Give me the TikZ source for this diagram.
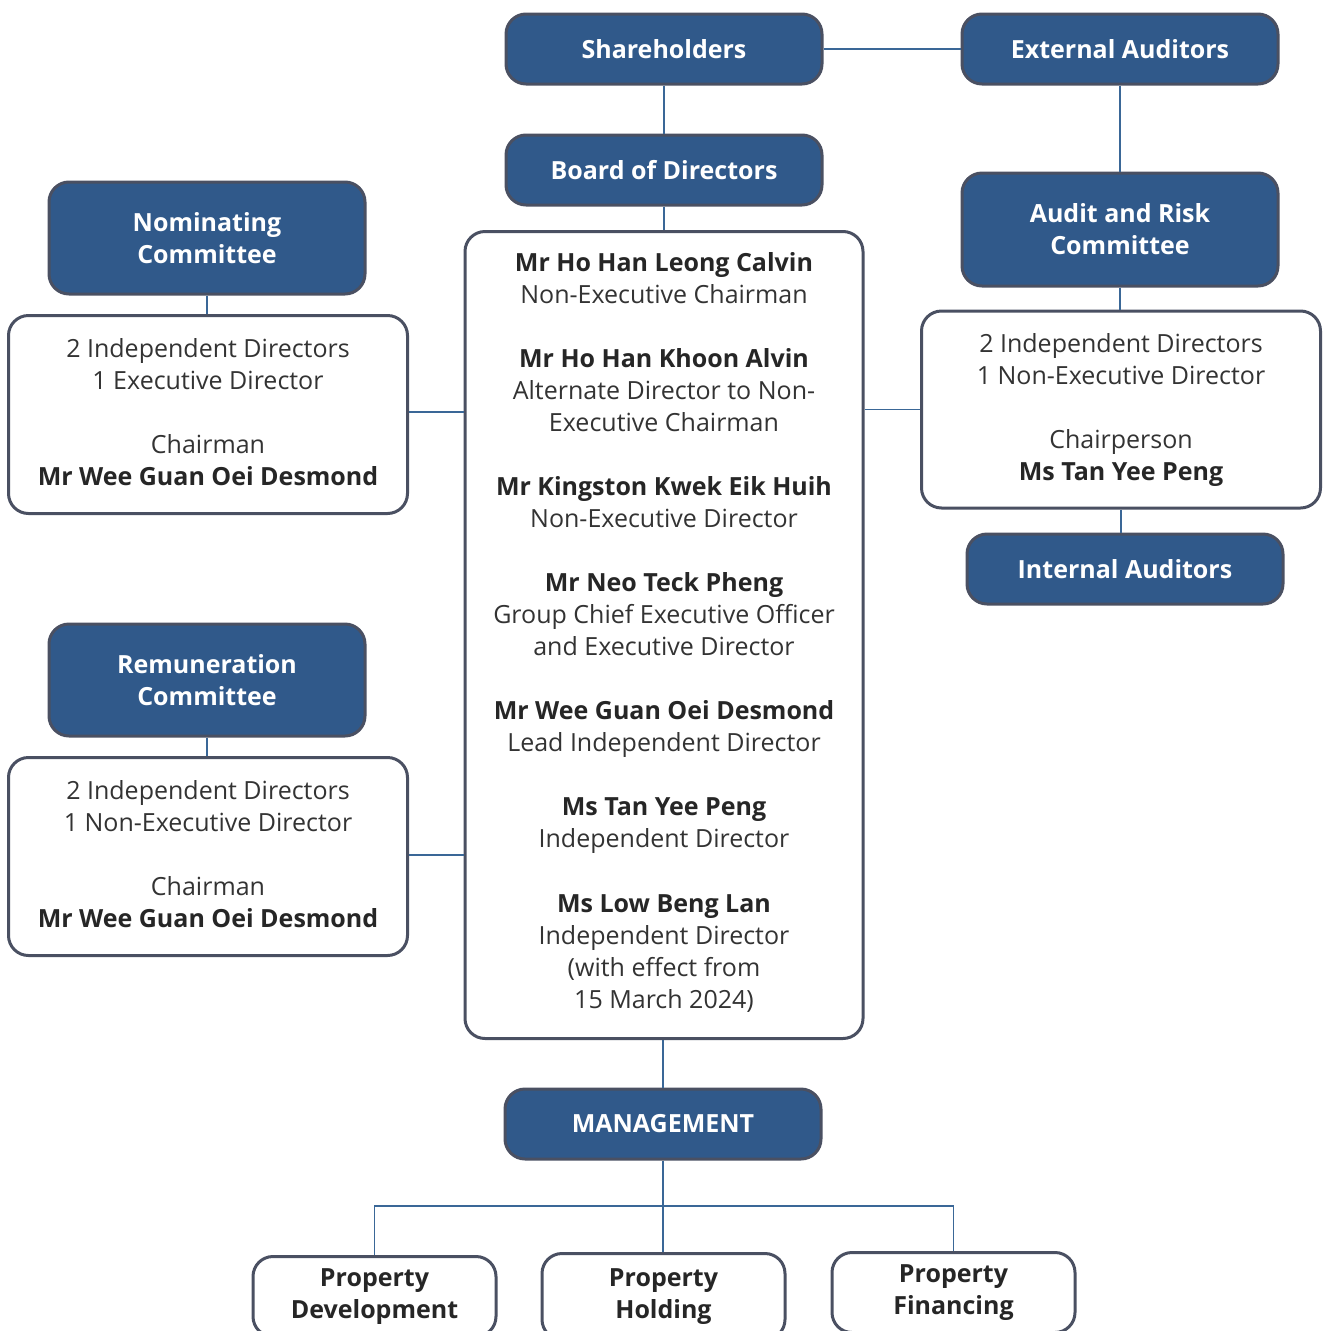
\documentclass[tikz,border=0pt]{standalone}
\usepackage{fontspec}
\setmainfont{Open Sans}
\definecolor{boxblue}{HTML}{30598A}
\definecolor{boxedge}{HTML}{4A5062}
\definecolor{linkblue}{HTML}{3A6797}
\definecolor{txt}{HTML}{333333}
\definecolor{txtb}{HTML}{262626}
\newcommand{\nm}[1]{\textcolor{txtb}{\bfseries #1}}
\tikzset{
  bluebox/.style={draw=boxedge, line width=3pt, fill=boxblue, rounded corners=20pt,
    text=white, font=\fontsize{25}{32}\selectfont\bfseries, align=center, inner sep=0pt,
    minimum width=316pt},
  whitebox/.style={draw=boxedge, line width=3pt, fill=white, rounded corners=20pt,
    text=txt, font=\fontsize{25}{32}\selectfont, align=center, inner sep=0pt},
  unitbox/.style={whitebox, minimum width=243pt, text=txtb, font=\fontsize{25}{32}\selectfont\bfseries},
  link/.style={draw=linkblue, line width=1.8pt}
}
\begin{document}
\begin{tikzpicture}[x=1pt,y=-1pt]
\useasboundingbox (0,0) rectangle (1323,1331);
\clip (0,0) rectangle (1323,1331);
% top
\node[bluebox, minimum height=70pt] (sh) at (664,49) {Shareholders};
\node[bluebox, minimum height=70pt] (ea) at (1120,49) {External Auditors};
\node[bluebox, minimum height=70pt] (bod) at (664,170) {Board of Directors};
% board members
\node[whitebox, minimum width=398pt, minimum height=807pt] (big) at (664,635) {};
\node[text=txt, font=\fontsize{25}{32}\selectfont, align=center, anchor=north, inner sep=0pt] (members) at (664,252)
 {\nm{Mr Ho Han Leong Calvin}\\
  Non-Executive Chairman\\[32pt]
  \nm{Mr Ho Han Khoon Alvin}\\
  Alternate Director to Non-\\
  Executive Chairman\\[32pt]
  \nm{Mr Kingston Kwek Eik Huih}\\
  Non-Executive Director\\[32pt]
  \nm{Mr Neo Teck Pheng}\\
  Group Chief Executive Officer\\
  and Executive Director\\[32pt]
  \nm{Mr Wee Guan Oei Desmond}\\
  Lead Independent Director\\[32pt]
  \nm{Ms Tan Yee Peng}\\
  Independent Director\\[33pt]
  \nm{Ms Low Beng Lan}\\
  Independent Director\\
  (with effect from\\
  15 March 2024)};
% left committees
\node[bluebox, minimum height=112pt] (nc) at (207,238) {Nominating\\Committee};
\node[whitebox, minimum width=399pt, minimum height=198pt] (ncd) at (208,414.5)
 {2 Independent Directors\\1 Executive Director\\[32pt]Chairman\\\nm{Mr Wee Guan Oei Desmond\vphantom{g}}};
\node[bluebox, minimum height=112pt] (rc) at (207,680) {Remuneration\\Committee};
\node[whitebox, minimum width=399pt, minimum height=198pt] (rcd) at (208,856.5)
 {2 Independent Directors\\1 Non-Executive Director\\[32pt]Chairman\\\nm{Mr Wee Guan Oei Desmond\vphantom{g}}};
% right committees
\node[bluebox, minimum height=113pt] (arc) at (1120,229.5) {Audit and Risk\\Committee};
\node[whitebox, minimum width=399pt, minimum height=197pt] (arcd) at (1121,409.5)
 {2 Independent Directors\\1 Non-Executive Director\\[32pt]Chairperson\\\nm{Ms Tan Yee Peng}};
\node[bluebox, minimum height=70pt] (ia) at (1125,569) {Internal Auditors};
% management
\node[bluebox, minimum height=70pt] (mg) at (663,1124) {MANAGEMENT};
\node[unitbox, minimum height=80pt] (pd) at (374.5,1296.5) {Property\\Development\vphantom{g}};
\node[unitbox, minimum height=86pt] (ph) at (663.5,1296.5) {Property\\Holding};
\node[unitbox, minimum height=80pt] (pf) at (953.5,1292.5) {Property\\Financing};
\coordinate (bus) at (663,1206);
% connectors
\draw[link] (sh.east) -- (ea.west);
\draw[link] (sh.south) -- (bod.north);
\draw[link] (bod.south) -- (big.north);
\draw[link] (mg.north |- big.south) -- (mg.north);
\draw[link] (ea.south) -- (ea.south |- arc.north);
\draw[link] (arc.south) -- (arc.south |- arcd.north);
\draw[link] (arcd.south) -- (arcd.south |- ia.north);
\draw[link] (arcd.west) -- (arcd.west -| big.east);
\draw[link] (nc.south) -- (nc.south |- ncd.north);
\draw[link] (rc.south) -- (rc.south |- rcd.north);
\draw[link] (ncd.east |- 0,412) -- (big.west |- 0,412);
\draw[link] (rcd.east |- 0,855) -- (big.west |- 0,855);
\draw[link] (mg.south) -- (mg.south |- ph.north);
\draw[link] (pd.north) -- (pd.north |- bus) -- (pf.north |- bus) -- (pf.north);
\end{tikzpicture}
\end{document}
